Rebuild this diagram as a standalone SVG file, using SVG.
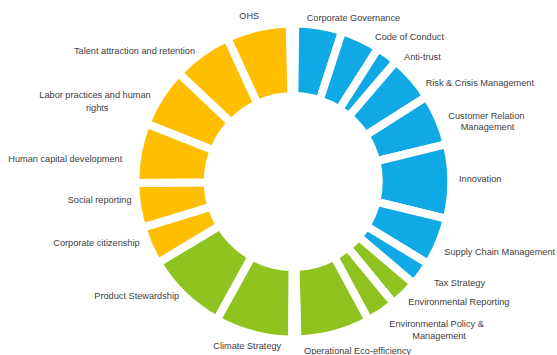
<svg xmlns="http://www.w3.org/2000/svg" width="557" height="355" viewBox="0 0 557 355">
<style>
.seg{stroke:#fff;stroke-width:8;stroke-linejoin:miter}
.b{fill:#0FA9E6}
.y{fill:#FFBF00}
.g{fill:#8FC31F}
text{font-family:"Liberation Sans",Arial,sans-serif;font-size:9.2px;fill:#404040}
</style>
<rect width="557" height="355" fill="#fff"/>
<g id="corporate-governance"><path class="seg b" d="M295.23,23.51 A158,158 0 0 1 342.13,31.23 L319.72,100.18 A85.5,85.5 0 0 0 294.35,96.01 Z"/><text x="306.7" y="20.5">Corporate Governance</text></g>
<g id="code-of-conduct"><path class="seg b" d="M342.13,31.23 A158,158 0 0 1 378.19,48.24 L339.24,109.39 A85.5,85.5 0 0 0 319.72,100.18 Z"/><text x="375" y="40">Code of Conduct</text></g>
<g id="anti-trust"><path class="seg b" d="M378.19,48.24 A158,158 0 0 1 395.91,61.36 L348.83,116.48 A85.5,85.5 0 0 0 339.24,109.39 Z"/><text x="404" y="60">Anti-trust</text></g>
<g id="risk-crisis"><path class="seg b" d="M395.91,61.36 A158,158 0 0 1 426.56,96.61 L365.41,135.56 A85.5,85.5 0 0 0 348.83,116.48 Z"/><text x="425.7" y="85.5">Risk &amp; Crisis Management</text></g>
<g id="customer-relation"><path class="seg b" d="M426.56,96.61 A158,158 0 0 1 446.80,144.08 L376.37,161.25 A85.5,85.5 0 0 0 365.41,135.56 Z"/><text x="448.3" y="118.5">Customer Relation</text><text x="460.7" y="130">Management</text></g>
<g id="innovation"><path class="seg b" d="M446.80,144.08 A158,158 0 0 1 446.80,218.92 L376.37,201.75 A85.5,85.5 0 0 0 376.37,161.25 Z"/><text x="459" y="182">Innovation</text></g>
<g id="supply-chain"><path class="seg b" d="M446.80,218.92 A158,158 0 0 1 428.14,263.84 L366.27,226.06 A85.5,85.5 0 0 0 376.37,201.75 Z"/><text x="444.3" y="255">Supply Chain Management</text></g>
<g id="tax-strategy"><path class="seg b" d="M428.14,263.84 A158,158 0 0 1 413.80,283.69 L358.51,236.80 A85.5,85.5 0 0 0 366.27,226.06 Z"/><text x="434" y="285.5">Tax Strategy</text></g>
<g id="environmental-reporting"><path class="seg g" d="M413.80,283.69 A158,158 0 0 1 393.80,303.42 L347.68,247.47 A85.5,85.5 0 0 0 358.51,236.80 Z"/><text x="408.3" y="305">Environmental Reporting</text></g>
<g id="environmental-policy"><path class="seg g" d="M393.80,303.42 A158,158 0 0 1 368.69,320.35 L334.10,256.64 A85.5,85.5 0 0 0 347.68,247.47 Z"/><text x="389.3" y="326.5">Environmental Policy &amp;</text><text x="412.3" y="339">Management</text></g>
<g id="operational-eco-efficiency"><path class="seg g" d="M368.69,320.35 A158,158 0 0 1 297.44,339.45 L295.54,266.97 A85.5,85.5 0 0 0 334.10,256.64 Z"/><text x="304" y="353.5">Operational Eco-efficiency</text></g>
<g id="climate-strategy"><path class="seg g" d="M291.92,339.49 A158,158 0 0 1 216.70,319.69 L251.85,256.28 A85.5,85.5 0 0 0 292.55,267.00 Z"/><text x="213.3" y="348.5">Climate Strategy</text></g>
<g id="product-stewardship"><path class="seg g" d="M216.70,319.69 A158,158 0 0 1 157.87,262.88 L220.01,225.54 A85.5,85.5 0 0 0 251.85,256.28 Z"/><text x="94.3" y="299">Product Stewardship</text></g>
<g id="corporate-citizenship"><path class="seg y" d="M157.87,262.88 A158,158 0 0 1 142.20,227.69 L211.54,206.50 A85.5,85.5 0 0 0 220.01,225.54 Z"/><text x="53.3" y="246">Corporate citizenship</text></g>
<g id="social-reporting"><path class="seg y" d="M142.20,227.69 A158,158 0 0 1 135.30,182.88 L207.80,182.25 A85.5,85.5 0 0 0 211.54,206.50 Z"/><text x="67.7" y="202.5">Social reporting</text></g>
<g id="human-capital"><path class="seg y" d="M135.30,182.88 A158,158 0 0 1 146.29,123.59 L213.75,150.16 A85.5,85.5 0 0 0 207.80,182.25 Z"/><text x="8.3" y="161.5">Human capital development</text></g>
<g id="labor-practices"><path class="seg y" d="M146.29,123.59 A158,158 0 0 1 178.50,72.94 L231.18,122.75 A85.5,85.5 0 0 0 213.75,150.16 Z"/><text x="39.3" y="97.5">Labor practices and human</text><text x="86" y="111">rights</text></g>
<g id="talent"><path class="seg y" d="M178.50,72.94 A158,158 0 0 1 227.28,37.96 L257.57,103.82 A85.5,85.5 0 0 0 231.18,122.75 Z"/><text x="74" y="54">Talent attraction and retention</text></g>
<g id="ohs"><path class="seg y" d="M227.28,37.96 A158,158 0 0 1 289.71,23.54 L291.36,96.02 A85.5,85.5 0 0 0 257.57,103.82 Z"/><text x="239.3" y="19">OHS</text></g>
<g id="connectors"/>
</svg>
